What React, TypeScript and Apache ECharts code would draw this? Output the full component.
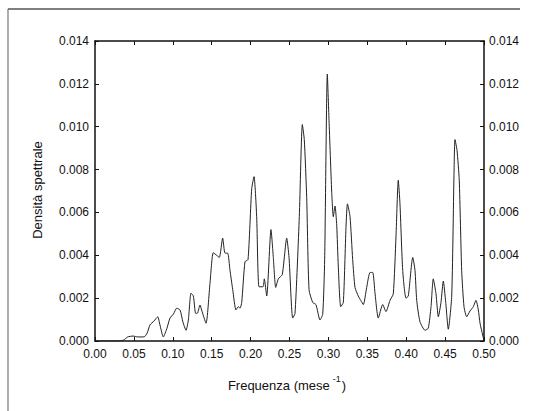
import React, { useEffect, useRef } from "react";
import * as echarts from "echarts";

const freq = [
  0, 0.032, 0.037, 0.042, 0.049, 0.055, 0.063, 0.067, 0.0707, 0.0758,
  0.0806, 0.0835, 0.0878, 0.0925, 0.0964, 0.1009, 0.105, 0.1093, 0.113, 0.117,
  0.12, 0.1234, 0.1264, 0.1294, 0.1317, 0.135, 0.137, 0.1427, 0.1478, 0.152,
  0.1564, 0.1598, 0.1641, 0.1671, 0.1705, 0.1735, 0.177, 0.1812, 0.1842, 0.1864,
  0.1886, 0.1928, 0.1967, 0.2014, 0.2044, 0.2078, 0.2108, 0.2159, 0.2176, 0.2207,
  0.2262, 0.2292, 0.2323, 0.2356, 0.2407, 0.2464, 0.2494, 0.2541, 0.2571, 0.2626,
  0.2665, 0.269, 0.2721, 0.2751, 0.2798, 0.284, 0.2892, 0.2927, 0.2952, 0.2986,
  0.3008, 0.3042, 0.3063, 0.3085, 0.3107, 0.3127, 0.3158, 0.3192, 0.3226, 0.3245,
  0.3278, 0.3312, 0.3342, 0.3384, 0.3415, 0.3449, 0.3492, 0.3535, 0.3569, 0.36,
  0.3641, 0.3698, 0.374, 0.3792, 0.3834, 0.3869, 0.3898, 0.392, 0.3955, 0.3997,
  0.4027, 0.4084, 0.4113, 0.4135, 0.4177, 0.4242, 0.4284, 0.4319, 0.4348, 0.4383,
  0.4413, 0.4447, 0.4477, 0.4508, 0.4541, 0.4585, 0.4614, 0.4627, 0.4653, 0.4682,
  0.4713, 0.4743, 0.4778, 0.482, 0.4863, 0.4897, 0.4927, 0.4949, 0.4983, 0.5,
];

const density = [
  0, 0, 0.00005, 0.00019, 0.00023, 0.00019, 0.00019, 0.00037, 0.00075, 0.00093,
  0.00113, 0.00075, 0.00019, 0.0006, 0.00107, 0.00126, 0.00153, 0.00145, 0.00089, 0.0005,
  0.00098, 0.00223, 0.0021, 0.00129, 0.0013, 0.00168, 0.00145, 0.00083, 0.0027, 0.00412,
  0.004, 0.0039, 0.0048, 0.0041, 0.0041, 0.0033, 0.0024, 0.00145, 0.0016, 0.00153,
  0.0018, 0.0037, 0.0038, 0.0071, 0.00767, 0.0058, 0.00253, 0.00253, 0.0029, 0.0021,
  0.0052, 0.0039, 0.0025, 0.0029, 0.0031, 0.0048, 0.0039, 0.00107, 0.00129, 0.0058,
  0.0101, 0.0094, 0.0067, 0.0024, 0.0018, 0.0017, 0.00098, 0.00126, 0.0038, 0.01246,
  0.0103, 0.007, 0.0058, 0.0063, 0.0054, 0.0035, 0.0016, 0.0018, 0.0053, 0.0064,
  0.0058, 0.0038, 0.0025, 0.0021, 0.0019, 0.0017, 0.0025, 0.0032, 0.0032, 0.0022,
  0.00107, 0.0017, 0.00137, 0.0019, 0.0022, 0.0049, 0.0075, 0.0064, 0.0033, 0.002,
  0.0021, 0.0039, 0.0033, 0.0019, 0.0009, 0.0005, 0.0006, 0.0016, 0.0029, 0.0022,
  0.00113, 0.0018, 0.0028, 0.0018, 0.00055, 0.0021, 0.0077, 0.0094, 0.0089, 0.0075,
  0.0033, 0.0016, 0.00113, 0.0014, 0.0016, 0.0019, 0.00145, 0.00083, 0.00028, 0.00002,
];

const xTitle = "Frequenza (mese";
const yTitle = "Densità spettrale";

export default function App() {
  const ref = useRef<HTMLDivElement>(null);
  useEffect(() => {
    if (!ref.current) return;
    const chart = echarts.init(ref.current, null, { renderer: "svg" });
    const font = "Liberation Sans, Arial, sans-serif";
    const axisCommon = {
      type: "value" as const,
      axisLine: { show: true, onZero: false, lineStyle: { color: "#111", width: 1.5 } },
      axisTick: { show: true, inside: true, length: 4, lineStyle: { color: "#111", width: 1 } },
      splitLine: { show: false },
    };
    chart.setOption({
      animation: false,
      backgroundColor: "#fff",
      grid: { left: 95, right: 63, top: 41, bottom: 70 },
      xAxis: [
        {
          ...axisCommon,
          position: "bottom",
          min: 0,
          max: 0.5,
          interval: 0.05,
          axisLabel: {
            color: "#111",
            fontFamily: font,
            fontSize: 12,
            margin: 7,
            formatter: (v: number) => v.toFixed(2),
          },
        },
        {
          ...axisCommon,
          position: "top",
          min: 0,
          max: 0.5,
          interval: 0.05,
          axisLabel: { show: false },
        },
      ],
      yAxis: [
        {
          ...axisCommon,
          position: "left",
          min: 0,
          max: 0.014,
          interval: 0.002,
          axisLabel: {
            color: "#111",
            fontFamily: font,
            fontSize: 12,
            margin: 6,
            formatter: (v: number) => v.toFixed(3),
          },
        },
        {
          ...axisCommon,
          position: "right",
          min: 0,
          max: 0.014,
          interval: 0.002,
          axisLabel: {
            color: "#111",
            fontFamily: font,
            fontSize: 12,
            margin: 5,
            formatter: (v: number) => v.toFixed(3),
          },
        },
      ],
      series: [
        {
          type: "line",
          data: freq.map((f, i) => [f, density[i]]),
          showSymbol: false,
          smooth: 0.2,
          lineStyle: { color: "#222", width: 1 },
          z: 1,
        },
      ],
      graphic: [
        { type: "line", shape: { x1: 8, y1: 9, x2: 520, y2: 9 }, style: { stroke: "#555", lineWidth: 1.5 } },
        { type: "line", shape: { x1: 8, y1: 9, x2: 8, y2: 411 }, style: { stroke: "#777", lineWidth: 1.2 } },
        {
          type: "text",
          x: 37,
          y: 190,
          rotation: Math.PI / 2,
          style: {
            text: yTitle,
            fill: "#111",
            font: `13px ${font}`,
            align: "center",
            verticalAlign: "middle",
          },
        },
        {
          type: "text",
          x: 287,
          y: 383,
          style: {
            text: `{a|${xTitle}}{s|-1}{a|)}`,
            align: "center",
            verticalAlign: "middle",
            rich: {
              a: { fontSize: 13, fontFamily: font, fill: "#111", lineHeight: 18, verticalAlign: "bottom" },
              s: { fontSize: 9, fontFamily: font, fill: "#111", lineHeight: 18, verticalAlign: "top", padding: [0, 1, 0, 3] },
            },
          },
        },
      ],
    });
    return () => chart.dispose();
  }, []);
  return (
    <div
      ref={ref}
      style={{ position: "fixed", left: 0, top: 0, width: 547, height: 411, background: "#fff" }}
    />
  );
}
